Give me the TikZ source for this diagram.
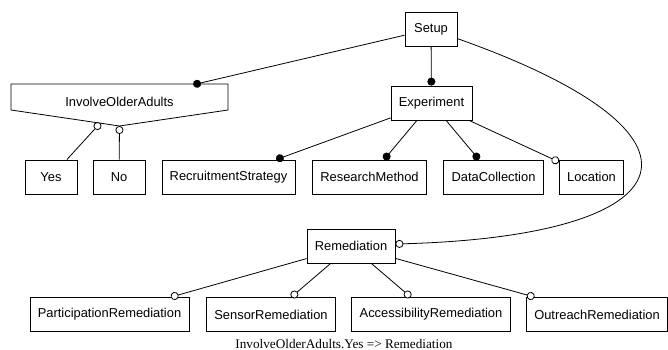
\documentclass[tikz,border=0pt]{standalone}
\usepackage{fontspec}
\setmainfont{Liberation Serif}
\setsansfont{Liberation Sans}
\usetikzlibrary{arrows.meta}

\begin{document}
\begin{tikzpicture}[x=1pt, y=-1pt,
  feat/.style={draw, line width=0.8pt, fill=white,
    font=\sffamily\fontsize{12.9}{15}\selectfont,
    minimum height=34pt, minimum width=52pt,
    inner xsep=7.8pt, inner ysep=0pt},
  link/.style={line width=0.8pt},
  mand/.style={link, -{Circle[length=8pt]}},
  opt/.style={link, -{Circle[open, length=8pt, fill=white]}},
]
% canvas
\fill[white] (0,0) rectangle (668,350);
\useasboundingbox (0,0) rectangle (668,350);

% root and main features
\node[feat] (Setup) at (431,29) {Setup};
\node[feat] (Experiment) at (431.5,103) {Experiment};

% alternative group: pentagon outline with its label
\draw[line width=0.8pt] (11,84) -- (228,84) -- (228,110) -- (119.5,126) -- (11,110) -- cycle;
\node[draw=none, minimum width=217pt, minimum height=36pt, inner sep=0pt,
      font=\sffamily\fontsize{12.9}{15}\selectfont] (IOA) at (119.5,102) {InvolveOlderAdults};
\coordinate (yesTip) at (100.2,123.1);
\coordinate (noTip) at (119.5,126);

% second row
\node[feat] (Yes) at (51,177) {Yes};
\node[feat] (No) at (119,177) {No};
\node[feat] (Recruit) at (228.5,177) {RecruitmentStrategy};
\node[feat] (Method) at (369.5,177) {ResearchMethod};
\node[feat] (Data) at (493.5,177) {DataCollection};
\node[feat] (Location) at (591.5,177) {Location};

% remediation branch
\node[feat] (Remediation) at (351,246) {Remediation};
\node[feat] (Participation) at (109.5,314.5) {ParticipationRemediation};
\node[feat] (Sensor) at (271,314.5) {SensorRemediation};
\node[feat] (Access) at (431,314.5) {AccessibilityRemediation};
\node[feat] (Outreach) at (597,314.5) {OutreachRemediation};

% connectors
\draw[mand] (Setup) -- (Experiment);
\draw[mand, shorten >=-4pt] (Setup) -- (IOA);
\draw[opt] (Setup.-20) .. controls (730,135) and (690,236) .. ([yshift=2pt]Remediation.east);

\draw[opt] (Yes) -- (yesTip);
\draw[opt] (No) -- (noTip);

\draw[mand] (Experiment) -- (Recruit);
\draw[mand] (Experiment) -- (Method);
\draw[mand] (Experiment) -- (Data);
\draw[opt] (Experiment) -- (Location);

\draw[opt] (Remediation) -- (Participation);
\draw[opt] (Remediation) -- (Sensor);
\draw[opt] (Remediation) -- (Access);
\draw[opt] (Remediation) -- (Outreach);

% cross-tree constraint
\node[font=\fontsize{13.2}{15}\selectfont, inner sep=0pt] (constraint) at (344,344) {InvolveOlderAdults.Yes => Remediation};
\end{tikzpicture}
\end{document}
